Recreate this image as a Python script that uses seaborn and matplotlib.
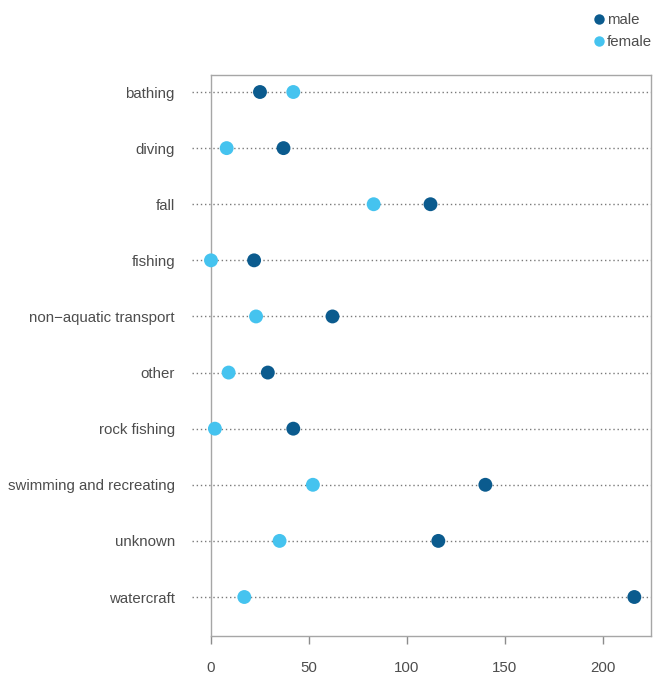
import matplotlib
matplotlib.use("Agg")
import matplotlib.pyplot as plt
import seaborn as sns
import pandas as pd

activities = ["bathing", "diving", "fall", "fishing", "non\u2212aquatic transport",
              "other", "rock fishing", "swimming and recreating", "unknown", "watercraft"]
male = [25, 37, 112, 22, 62, 29, 42, 140, 116, 216]
female = [42, 8, 83, 0, 23, 9, 2, 52, 35, 17]
sexes = ["male", "female"]
x_ticks = [0, 50, 100, 150, 200]

palette = {"male": "#0b5b8e", "female": "#45c3ef"}

df = pd.DataFrame({
    "activity": activities * 2,
    "deaths": male + female,
    "sex": ["male"] * len(activities) + ["female"] * len(activities),
})
df["row"] = df["activity"].map({a: i for i, a in enumerate(activities)})

sns.set_theme(style="white")
plt.rcParams["font.family"] = ["Liberation Sans", "DejaVu Sans"]

fig = plt.figure(figsize=(6.54, 6.8), dpi=100)
ax = fig.add_axes([0.3226, 0.0647, 0.6728, 0.825])

# dotted guide line per activity, running past the left spine
for i in range(len(activities)):
    ax.plot([-9.5, 224.5], [i, i], linestyle=(0, (1, 2)), color="#7a7a7a",
            linewidth=1.0, clip_on=False, zorder=1)

sns.scatterplot(data=df, x="deaths", y="row", hue="sex", hue_order=sexes,
                palette=palette, s=100, linewidth=0, ax=ax, zorder=3,
                clip_on=False, legend=False)

ax.set_xlim(0, 224.5)
ax.set_ylim(9.695, -0.303)
ax.set_xticks(x_ticks)
ax.set_xticklabels([str(t) for t in x_ticks])
ax.set_yticks(range(len(activities)))
ax.set_yticklabels(activities)
ax.set_xlabel("")
ax.set_ylabel("")

for side in ["left", "right", "top", "bottom"]:
    ax.spines[side].set_visible(True)
    ax.spines[side].set_color("#a6a6a6")
    ax.spines[side].set_linewidth(1.0)

ax.tick_params(axis="x", bottom=True, direction="out", length=6, width=1,
               color="#8c8c8c", labelsize=10.8, labelcolor="#4d4d4d", pad=12)
ax.tick_params(axis="y", left=False, length=0, labelsize=10.8,
               labelcolor="#4d4d4d", pad=26)
ax.grid(False)

# legend in the top-right corner
handles = [plt.Line2D([], [], marker="o", linestyle="", markersize=7.5,
                      markerfacecolor=palette[s], markeredgewidth=0) for s in sexes]
fig.legend(handles, sexes, loc="upper left", bbox_to_anchor=(0.9, 0.99),
           frameon=False, fontsize=10.8, handlelength=0.6, handletextpad=0.2,
           labelspacing=0.55, labelcolor="#4d4d4d", borderaxespad=0)

fig.savefig("out.png", dpi=100, facecolor="white")
